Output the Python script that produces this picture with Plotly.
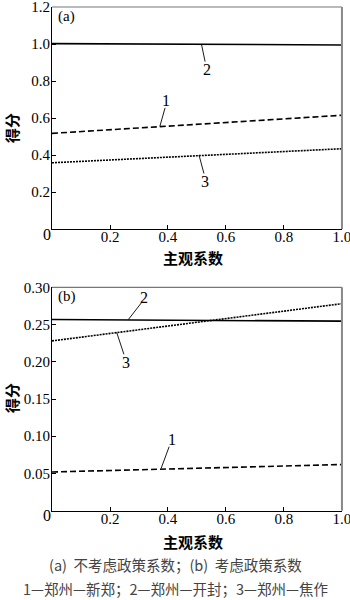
import plotly.graph_objects as go

# ---- data ----
x_coef = [0.0, 1.0]
# (a) without policy coefficient
a_line1 = [0.517, 0.615]   # 郑州—新郑
a_line2 = [1.002, 0.995]   # 郑州—开封
a_line3 = [0.358, 0.434]   # 郑州—焦作
# (b) with policy coefficient
b_line1 = [0.052, 0.062]
b_line2 = [0.2567, 0.2545]
b_line3 = [0.228, 0.278]

a_yticks = [0.2, 0.4, 0.6, 0.8, 1.0, 1.2]
a_yticklabels = ["0.2", "0.4", "0.6", "0.8", "1.0", "1.2"]
b_yticks = [0.05, 0.10, 0.15, 0.20, 0.25, 0.30]
b_yticklabels = ["0.05", "0.10", "0.15", "0.20", "0.25", "0.30"]
xticks = [0.2, 0.4, 0.6, 0.8, 1.0]
xticklabels = ["0.2", "0.4", "0.6", "0.8", "1.0"]

# curve labels: (label, text x, text y, leader start x, y, leader end x, y)
a_labels = [("2", 0.533, 0.86, 0.516, 0.995, 0.528, 0.905),
            ("1", 0.392, 0.695, 0.372, 0.555, 0.390, 0.655),
            ("3", 0.528, 0.255, 0.507, 0.400, 0.524, 0.300)]
b_labels = [("2", 0.317, 0.286, 0.263, 0.2565, 0.309, 0.2795),
            ("3", 0.255, 0.199, 0.223, 0.2395, 0.248, 0.210),
            ("1", 0.413, 0.0955, 0.376, 0.0565, 0.404, 0.086)]

SERIF = "Times New Roman, Liberation Serif, serif"
CJK = "Noto Sans CJK SC"

fig = go.Figure()
styles = [dict(color="black", width=1.6, dash="6px,3px"),
          dict(color="black", width=1.6),
          dict(color="black", width=1.6, dash="2px,1px")]

for ys, st in zip([a_line1, a_line2, a_line3], styles):
    fig.add_trace(go.Scatter(x=x_coef, y=ys, mode="lines", line=st,
                             xaxis="x", yaxis="y", showlegend=False))
for ys, st in zip([b_line1, b_line2, b_line3], styles):
    fig.add_trace(go.Scatter(x=x_coef, y=ys, mode="lines", line=st,
                             xaxis="x2", yaxis="y2", showlegend=False))

# leader lines
for labs, xr, yr in [(a_labels, "x", "y"), (b_labels, "x2", "y2")]:
    for lab, tx, ty, x0, y0, x1, y1 in labs:
        fig.add_trace(go.Scatter(x=[x0, x1], y=[y0, y1], mode="lines",
                                 line=dict(color="black", width=0.9),
                                 xaxis=xr, yaxis=yr, showlegend=False))
        fig.add_annotation(x=tx, y=ty, xref=xr, yref=yr, text=lab, showarrow=False,
                           font=dict(family=SERIF, size=16, color="black"))

xdom = [0.1486, 0.977]
common_x = dict(range=[0, 1], tickvals=xticks, ticktext=xticklabels, ticks="inside",
                ticklen=4, tickcolor="black", showline=True, linecolor="black",
                linewidth=1.2, showgrid=False, zeroline=False, domain=xdom,
                automargin=False, ticklabelstandoff=-6, ticklabeloverflow="allow",
                tickfont=dict(family=SERIF, size=15, color="black"))
common_y = dict(ticks="inside", ticklen=4, tickcolor="black", showline=True,
                linecolor="black", linewidth=1.2, showgrid=False, zeroline=False,
                automargin=False, ticklabelstandoff=-2, ticklabeloverflow="allow",
                tickfont=dict(family=SERIF, size=15, color="black"))

fig.update_layout(
    width=350, height=600, margin=dict(l=0, r=0, t=0, b=0, autoexpand=False),
    paper_bgcolor="white", plot_bgcolor="white",
    xaxis=dict(anchor="y", **common_x),
    yaxis=dict(anchor="x", domain=[0.6183, 0.9883], range=[0, 1.2],
               tickvals=a_yticks, ticktext=a_yticklabels, **common_y),
    xaxis2=dict(anchor="y2", **common_x),
    yaxis2=dict(anchor="x2", domain=[0.1488, 0.5212], range=[0, 0.30],
                tickvals=b_yticks, ticktext=b_yticklabels, **common_y),
)

# top/right frame (grey)
for yr in ["y", "y2"]:
    xd = "x domain" if yr == "y" else "x2 domain"
    yd = yr + " domain"
    fig.add_shape(type="line", xref=xd, yref=yd, x0=0, x1=1, y0=1, y1=1,
                  line=dict(color="#777", width=1.2))
    fig.add_shape(type="line", xref=xd, yref=yd, x0=1, x1=1, y0=0, y1=1,
                  line=dict(color="#888", width=2))

# origin "0" labels
for xr, yr in [("x", "y"), ("x2", "y2")]:
    fig.add_annotation(x=0, y=0, xref=xr, yref=yr, text="0", showarrow=False,
                       xshift=-5, yshift=-5,
                       font=dict(family=SERIF, size=16, color="black"))

# panel labels
fig.add_annotation(x=0.015, y=1.15, xref="x", yref="y", text="(a)", showarrow=False,
                   xanchor="left", font=dict(family=SERIF, size=15, color="black"))
fig.add_annotation(x=0.015, y=0.288, xref="x2", yref="y2", text="(b)", showarrow=False,
                   xanchor="left", font=dict(family=SERIF, size=15, color="black"))

# axis titles
for yc in [1 - 258 / 600, 1 - 541 / 600]:
    fig.add_annotation(x=193 / 350, y=yc, xref="paper", yref="paper", text="<b>主观系数</b>",
                       showarrow=False, xanchor="center", yanchor="middle",
                       font=dict(family=CJK, size=15, color="black"))
for yc in [1 - 128 / 600, 1 - 398 / 600]:
    fig.add_annotation(x=11 / 350, y=yc, xref="paper", yref="paper", text="<b>得分</b>",
                       showarrow=False, textangle=-90, xanchor="center", yanchor="middle",
                       font=dict(family=CJK, size=15, color="black"))

# captions
fig.add_annotation(x=175 / 350, y=1 - 564 / 600, xref="paper", yref="paper",
                   text="(a)  不考虑政策系数；(b)  考虑政策系数", showarrow=False,
                   xanchor="center", yanchor="middle",
                   font=dict(family=CJK, size=14.5, color="#444"))
fig.add_annotation(x=175 / 350, y=1 - 588 / 600, xref="paper", yref="paper",
                   text="1—郑州—新郑；2—郑州—开封；3—郑州—焦作", showarrow=False,
                   xanchor="center", yanchor="middle",
                   font=dict(family=CJK, size=14.5, color="#444"))

fig.write_html("out.html")
